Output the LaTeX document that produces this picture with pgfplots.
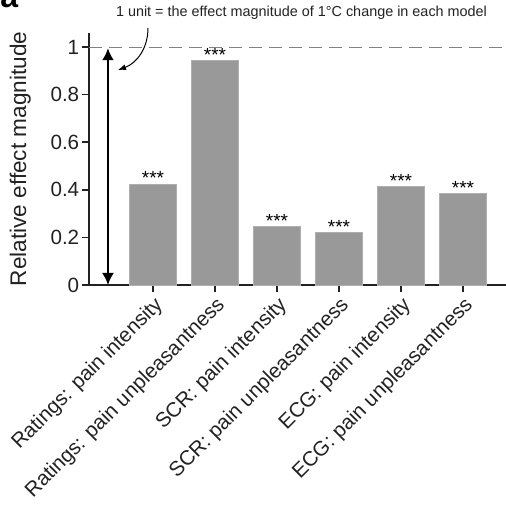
\documentclass[border=0pt]{standalone}
\usepackage{fontspec}
\setmainfont{Liberation Sans}
\usepackage{pgfplots}
\pgfplotsset{compat=1.18}
\usetikzlibrary{arrows.meta}

\definecolor{barfill}{RGB}{153,153,153}
\definecolor{baredge}{RGB}{175,175,175}
\definecolor{axisgray}{RGB}{34,34,34}
\definecolor{refline}{RGB}{130,130,130}

\begin{document}
\begin{tikzpicture}
\begin{axis}[
  at={(0,0)}, anchor=south west,
  scale only axis, width=208.5pt, height=126pt,
  xmin=-1.032, xmax=5.694, ymin=0, ymax=1.059,
  axis lines=left,
  axis line style={-, line width=0.8pt, axisgray},
  tick style={line width=0.8pt, axisgray},
  tick align=outside, major tick length=3.5pt,
  ytick={0,0.2,0.4,0.6,0.8,1},
  xtick={0,1,2,3,4,5},
  xticklabels={Ratings: pain intensity, Ratings: pain unpleasantness,
               SCR: pain intensity, SCR: pain unpleasantness,
               ECG: pain intensity, ECG: pain unpleasantness},
  xticklabel style={rotate=45, anchor=north east, inner sep=1pt,
                    font=\fontsize{10.3}{12}\selectfont, text=axisgray},
  yticklabel style={font=\fontsize{10.3}{12}\selectfont, text=axisgray,
                    inner sep=1.2pt},
  /pgf/number format/assume math mode=true,
  ylabel={Relative effect magnitude},
  ylabel style={at={(axis description cs:-0.165,0.5)}, anchor=center,
                font=\fontsize{11.3}{13}\selectfont, text=axisgray},
  ybar, bar width=23.5pt, bar shift=0pt,
  clip=false,
  nodes near coords={***},
  every node near coord/.append style={font=\fontsize{9.5}{10}\selectfont,
                                       inner sep=0pt, anchor=south, yshift=-0.5pt},
]
% reference level: one unit equals the effect of a 1 degree change
\draw[refline, line width=0.5pt, dash pattern=on 6.5pt off 3.5pt]
  (axis cs:-1.032,1) -- (axis cs:5.63,1);

\addplot[fill=barfill, draw=baredge, line width=0.5pt] coordinates {
  (0,0.424) (1,0.942) (2,0.245) (3,0.220) (4,0.413) (5,0.384)
};

% span of one unit
\draw[black, line width=1pt,
      {Latex[length=6pt,width=6pt]}-{Latex[length=6pt,width=6pt]}]
  (axis cs:-0.726,0) -- (axis cs:-0.726,0.995);
\end{axis}

\node[font=\fontsize{7.2}{8}\selectfont, text=axisgray, inner sep=0pt]
  at (106.25pt,136pt) {1 unit = the effect magnitude of 1\textdegree C change in each model};
\draw[black, line width=0.5pt, -{Latex[length=4pt,width=3pt]}]
  (29.5pt,128.5pt) to[out=-90, in=20] (14.5pt,107.5pt);

\node[anchor=base west, inner sep=0pt, font=\fontsize{16}{16}\selectfont\bfseries]
  at (-44.5pt,138.5pt) {a};

\pgfresetboundingbox
\useasboundingbox (-44.5pt,-111pt) rectangle (208.5pt,142.5pt);
\end{tikzpicture}
\end{document}
